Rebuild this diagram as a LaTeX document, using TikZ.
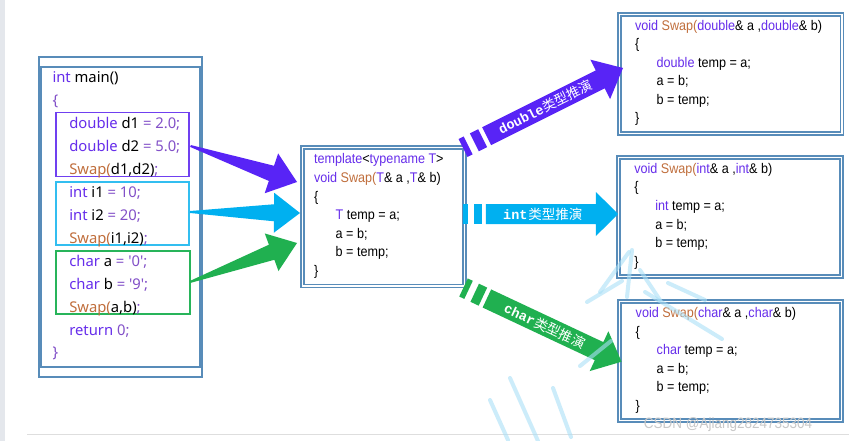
\documentclass[tikz,border=0pt]{standalone}
\usepackage{fontspec}
\setmainfont{Noto Sans}
\newfontfamily\arialf{Liberation Sans}[FakeStretch=0.9]
\newfontfamily\cjkf{Noto Sans CJK SC}
\newfontfamily\monof{Liberation Mono}
\usetikzlibrary{calc}
\definecolor{steel}{RGB}{88,140,185}
\definecolor{kwc}{RGB}{102,45,235}
\definecolor{fnc}{RGB}{192,110,60}
\definecolor{numc}{RGB}{130,80,200}
\definecolor{pbox}{RGB}{112,64,240}
\definecolor{parr}{RGB}{88,36,246}
\definecolor{cbox}{RGB}{50,190,240}
\definecolor{carr}{RGB}{0,176,240}
\definecolor{gbox}{RGB}{40,180,90}
\definecolor{garr}{RGB}{32,176,80}
\definecolor{wmc}{RGB}{170,224,247}
\definecolor{stripc}{RGB}{228,231,236}
\definecolor{linec}{RGB}{222,222,222}
\definecolor{csdnc}{RGB}{200,200,200}
\newcommand\ckw[1]{\textcolor{kwc}{#1}}
\newcommand\cfn[1]{\textcolor{fnc}{#1}}
\newcommand\cnm[1]{\textcolor{numc}{#1}}
\newcommand\sq{\textquotesingle}
\tikzset{
  mtxt/.style={anchor=base west, inner sep=0pt, outer sep=0pt, font=\fontsize{14.8}{16}\selectfont, text=black},
  atxt/.style={anchor=base west, inner sep=0pt, outer sep=0pt, font=\arialf\fontsize{14}{16}\selectfont, text=black},
  mframe/.style={draw=steel, line width=1.3pt, fill=white, inner sep=0pt, outer sep=0pt, anchor=north west},
  dframe/.style={draw=steel, line width=1.2pt, double=white, double distance=1.8pt, inner sep=0pt, outer sep=0pt, anchor=north west},
  subbox/.style={line width=1.5pt, inner sep=0pt, outer sep=0pt, anchor=north west},
  arrtxt/.style={text=white, inner sep=0pt, font=\cjkf\fontsize{13.5}{14}\selectfont},
  wm/.style={draw=wmc, line width=4pt, opacity=0.6, line cap=round}
}
\newcommand\taparrow[7]{%
  \coordinate (#1-hb) at ($(#2)!#4!(#1)$);
  \fill[#3] ($(#1)!#7!90:(#2)$) -- ($(#1-hb)!#6!90:(#2)$) -- ($(#1-hb)!#5!90:(#2)$) -- (#2)
    -- ($(#1-hb)!#5!270:(#2)$) -- ($(#1-hb)!#6!270:(#2)$) -- ($(#1)!#7!270:(#2)$) -- cycle;
}
\newcommand\blkarrow[4]{%
  \fill[#3] ($(#1)!0!(#2)!10pt!90:(#2)$) -- ($(#1)!0.032!(#2)!10pt!90:(#2)$)
    -- ($(#1)!0.032!(#2)!10pt!270:(#2)$) -- ($(#1)!0!(#2)!10pt!270:(#2)$) -- cycle;
  \fill[#3] ($(#1)!0.071!(#2)!10pt!90:(#2)$) -- ($(#1)!0.123!(#2)!10pt!90:(#2)$)
    -- ($(#1)!0.123!(#2)!10pt!270:(#2)$) -- ($(#1)!0.071!(#2)!10pt!270:(#2)$) -- cycle;
  \coordinate (#1-hb) at ($(#1)!0.858!(#2)$);
  \fill[#3] ($(#1)!0.148!(#2)!10pt!90:(#2)$) -- ($(#1-hb)!10pt!90:(#2)$) -- ($(#1-hb)!22pt!90:(#2)$) -- (#2)
    -- ($(#1-hb)!22pt!270:(#2)$) -- ($(#1-hb)!10pt!270:(#2)$) -- ($(#1)!0.148!(#2)!10pt!270:(#2)$) -- cycle;
  \path (#1) -- node[arrtxt, sloped, pos=0.515] (#1-lbl) {#4} (#2);
}
\begin{document}
\begin{tikzpicture}[x=1pt,y=-1pt]
\useasboundingbox (0,0) rectangle (849,441);
\fill[white] (0,0) rectangle (849,441);
\fill[stripc] (0,0) rectangle (5,441);
\draw[linec, line width=1.5pt] (27,434.5) -- (849,434.5);

% main box
\node[mframe, minimum width=163pt, minimum height=320pt] (mainout) at (39,57) {};
\node[mframe, minimum width=159pt, minimum height=300pt] (mainin) at (41,67) {};
\node[subbox, draw=pbox, minimum width=133pt, minimum height=64pt] (pb) at (56,112.5) {};
\node[subbox, draw=cbox, minimum width=133pt, minimum height=63pt] (cb) at (56,182) {};
\node[subbox, draw=gbox, minimum width=134pt, minimum height=63pt] (gb) at (56,251) {};

\node[mtxt] (m1) at (52.5,82.5) {\ckw{int} main()};
\node[mtxt] (m2) at (52.5,105.5) {\cnm{\{}};
\node[mtxt] (m3) at (69.3,128.4) {\ckw{double} d1 \cnm{= 2.0;}};
\node[mtxt] (m4) at (69.3,151.4) {\ckw{double} d2 \cnm{= 5.0;}};
\node[mtxt] (m5) at (69.3,174.3) {\cfn{Swap(}d1,d2)\cnm{;}};
\node[mtxt] (m6) at (69.3,197.3) {\ckw{int} i1 \cnm{= 10;}};
\node[mtxt] (m7) at (69.3,220.2) {\ckw{int} i2 \cnm{= 20;}};
\node[mtxt] (m8) at (69.3,243.2) {\cfn{Swap(}i1,i2)\cnm{;}};
\node[mtxt] (m9) at (69.3,266.1) {\ckw{char} a \cnm{= \sq0\sq;}};
\node[mtxt] (m10) at (69.3,289.1) {\ckw{char} b \cnm{= \sq9\sq;}};
\node[mtxt] (m11) at (69.3,312) {\cfn{Swap(}a,b)\cnm{;}};
\node[mtxt] (m12) at (69.3,335) {\ckw{return} \cnm{0;}};
\node[mtxt] (m13) at (52.5,357.9) {\cnm{\}}};

% template box
\node[dframe, minimum width=162pt, minimum height=138.5pt] (tpl) at (302.5,147.5) {};
\node[atxt] (t1) at (314,164) {\ckw{template}<\ckw{typename T}>};
\node[atxt] (t2) at (314,182.5) {\ckw{void} \cfn{Swap(}\ckw{T}\& a ,\ckw{T}\& b)};
\node[atxt] (t3) at (314,201) {\{};
\node[atxt] (t4) at (335.7,219.5) {\ckw{T} temp = a;};
\node[atxt] (t5) at (335.7,238) {a = b;};
\node[atxt] (t6) at (335.7,256.5) {b = temp;};
\node[atxt] (t7) at (314,275) {\}};

% right boxes
\node[dframe, minimum width=222.5pt, minimum height=119pt] (bd) at (619.5,14.5) {};
\node[atxt] (a1) at (635,30.5) {\ckw{void} \cfn{Swap(}\ckw{double}\& a ,\ckw{double}\& b)};
\node[atxt] (a2) at (635,49) {\{};
\node[atxt] (a3) at (656.7,67.5) {\ckw{double} temp = a;};
\node[atxt] (a4) at (656.7,86) {a = b;};
\node[atxt] (a5) at (656.7,104.5) {b = temp;};
\node[atxt] (a6) at (635,123) {\}};

\node[dframe, minimum width=223pt, minimum height=119pt] (bi) at (618.5,157.5) {};
\node[atxt] (b1) at (634.3,173.5) {\ckw{void} \cfn{Swap(}\ckw{int}\& a ,\ckw{int}\& b)};
\node[atxt] (b2) at (634.3,192) {\{};
\node[atxt] (b3) at (655.3,210.5) {\ckw{int} temp = a;};
\node[atxt] (b4) at (655.3,229) {a = b;};
\node[atxt] (b5) at (655.3,247.5) {b = temp;};
\node[atxt] (b6) at (634.3,266) {\}};

\node[dframe, minimum width=222pt, minimum height=119pt] (bc) at (619.5,301.5) {};
\node[atxt] (c1) at (635.7,317.5) {\ckw{void} \cfn{Swap(}\ckw{char}\& a ,\ckw{char}\& b)};
\node[atxt] (c2) at (635.7,336) {\{};
\node[atxt] (c3) at (656.7,354.5) {\ckw{char} temp = a;};
\node[atxt] (c4) at (656.7,373) {a = b;};
\node[atxt] (c5) at (656.7,391.5) {b = temp;};
\node[atxt] (c6) at (635.7,410) {\}};

% tapered arrows main -> template
\coordinate (ptail) at ($(pb.east)+(1.5,1.5)$);
\coordinate (ptip) at ($(tpl.west)+(-5.5,-34.75)$);
\coordinate (ctail) at ($(cb.east)+(1,-1.5)$);
\coordinate (ctip) at ($(tpl.west)+(-2.5,-3.75)$);
\coordinate (gtail) at ($(gb.east)+(0,-0.5)$);
\coordinate (gtip) at ($(tpl.west)+(-5.5,26.25)$);
\taparrow{ptail}{ptip}{parr}{27pt}{21pt}{8pt}{1pt}
\taparrow{ctail}{ctip}{carr}{26pt}{20pt}{8.5pt}{1pt}
\taparrow{gtail}{gtip}{garr}{27pt}{20pt}{8pt}{1pt}

% block arrows template -> instances
\coordinate (dtail) at ($(tpl.north east)+(-1.5,0.5)$);
\coordinate (dtip) at (623,68);
\coordinate (itail) at ($(tpl.east)+(-1.5,-2.75)$);
\coordinate (itip) at ($(bi.west)+(-0.5,-3)$);
\coordinate (chtail) at (463.5,287.5);
\coordinate (chtip) at ($(bc.west)+(2,0.7)$);
\blkarrow{dtail}{dtip}{parr}{{\monof\bfseries double}\hspace{1pt}类型推演}
\blkarrow{itail}{itip}{carr}{{\monof\bfseries int}\hspace{1pt}类型推演}
\blkarrow{chtail}{chtip}{garr}{{\monof\bfseries char}\hspace{1pt}类型推演}

% watermark
\draw[wm] (490,400) -- (508,440);
\draw[wm] (510,378) -- (538,441);
\draw[wm] (553,388) -- (571,437);
\draw[wm] (580,366) -- (611,341);
\draw[wm] (587,302) -- (622,281);
\draw[wm] (600,292) -- (629,252);
\draw[wm] (632,250) -- (627,297);
\draw[wm] (640,270) -- (660,300);
\draw[wm] (645,292) -- (722,339);
\draw[wm] (668,283) -- (705,300);
\node[text=csdnc, font=\arialf\fontsize{15}{15}\selectfont, inner sep=0pt] (csdn) at (728,425) {CSDN @Ajiang2824735304};
\end{tikzpicture}
\end{document}
